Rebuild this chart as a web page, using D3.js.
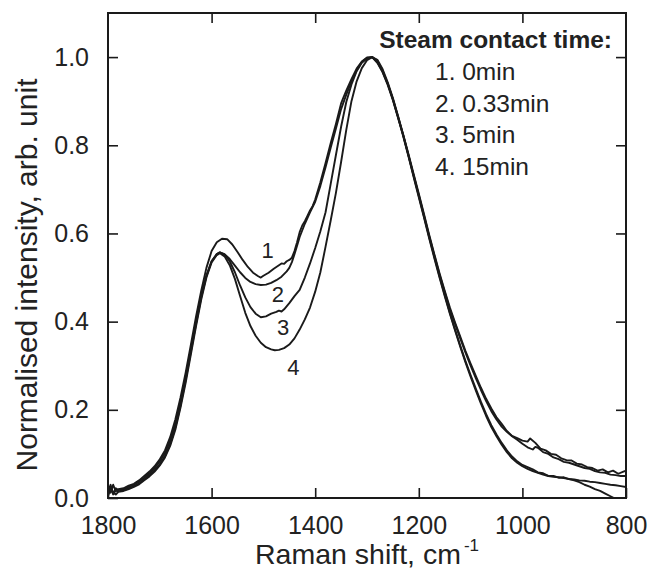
<!DOCTYPE html>
<html>
<head>
<meta charset="utf-8">
<script src="https://cdn.jsdelivr.net/npm/d3@7"></script>
<style>
  html, body { margin: 0; padding: 0; background: #fff; }
  svg { display: block; }
  text { font-family: "Liberation Sans", Arial, Helvetica, sans-serif; fill: #222; }
</style>
</head>
<body>
<svg id="chart" width="651" height="570"></svg>
<script>
// ---------- data (Raman shift cm-1, normalised intensity) ----------
const curve1 = [[1800,0.025],[1795,0.012],[1790,0.03],[1785,0.015],[1780,0.02],[1770,0.022],[1760,0.028],[1750,0.032],[1740,0.04],[1730,0.05],[1720,0.06],[1710,0.072],[1700,0.088],[1690,0.108],[1680,0.138],[1670,0.178],[1660,0.228],[1650,0.285],[1640,0.348],[1630,0.412],[1620,0.47],[1610,0.522],[1600,0.56],[1590,0.58],[1580,0.588],[1570,0.587],[1560,0.575],[1550,0.558],[1540,0.54],[1530,0.524],[1520,0.511],[1510,0.503],[1505,0.5],[1500,0.504],[1490,0.511],[1480,0.52],[1470,0.528],[1465,0.532],[1460,0.531],[1455,0.537],[1450,0.54],[1445,0.545],[1440,0.56],[1435,0.58],[1430,0.603],[1425,0.618],[1420,0.628],[1415,0.64],[1410,0.652],[1405,0.662],[1400,0.677],[1390,0.716],[1380,0.76],[1370,0.805],[1360,0.848],[1350,0.895],[1345,0.91],[1340,0.924],[1330,0.95],[1320,0.974],[1310,0.99],[1300,0.999],[1290,1.0],[1280,0.987],[1270,0.966],[1260,0.937],[1250,0.902],[1240,0.862],[1230,0.822],[1220,0.777],[1210,0.732],[1200,0.687],[1190,0.641],[1180,0.594],[1170,0.55],[1160,0.507],[1150,0.467],[1140,0.428],[1130,0.395],[1120,0.362],[1110,0.33],[1100,0.3],[1090,0.272],[1080,0.245],[1070,0.22],[1060,0.197],[1050,0.178],[1040,0.162],[1030,0.15],[1020,0.14],[1010,0.132],[1000,0.123],[990,0.115],[980,0.11],[975,0.116],[970,0.114],[960,0.104],[950,0.1],[940,0.092],[930,0.088],[920,0.082],[910,0.08],[900,0.076],[890,0.072],[880,0.068],[870,0.066],[860,0.061],[850,0.058],[840,0.057],[830,0.053],[820,0.052],[810,0.05],[800,0.05]];

const curve2 = [[1800,0.015],[1795,0.03],[1790,0.01],[1785,0.022],[1780,0.018],[1770,0.02],[1760,0.025],[1750,0.03],[1740,0.037],[1730,0.046],[1720,0.056],[1710,0.068],[1700,0.083],[1690,0.102],[1680,0.13],[1670,0.168],[1660,0.218],[1650,0.275],[1640,0.338],[1630,0.4],[1620,0.458],[1610,0.505],[1600,0.537],[1590,0.553],[1584,0.557],[1575,0.553],[1565,0.542],[1555,0.527],[1545,0.512],[1535,0.499],[1525,0.49],[1515,0.485],[1505,0.483],[1495,0.484],[1485,0.488],[1475,0.494],[1465,0.502],[1455,0.514],[1450,0.522],[1445,0.535],[1440,0.553],[1435,0.572],[1430,0.592],[1420,0.622],[1410,0.648],[1400,0.672],[1390,0.708],[1380,0.75],[1370,0.795],[1360,0.838],[1350,0.882],[1340,0.915],[1330,0.945],[1320,0.97],[1310,0.989],[1300,0.998],[1290,1.0],[1280,0.988],[1270,0.967],[1260,0.939],[1250,0.905],[1240,0.865],[1230,0.824],[1220,0.78],[1210,0.735],[1200,0.69],[1190,0.644],[1180,0.597],[1170,0.553],[1160,0.51],[1150,0.47],[1140,0.432],[1130,0.398],[1120,0.366],[1110,0.334],[1100,0.305],[1090,0.277],[1080,0.25],[1070,0.225],[1060,0.203],[1050,0.183],[1040,0.168],[1030,0.152],[1020,0.141],[1010,0.136],[1000,0.13],[990,0.128],[985,0.135],[975,0.125],[965,0.112],[955,0.108],[945,0.1],[935,0.098],[925,0.09],[915,0.086],[905,0.085],[895,0.078],[885,0.076],[875,0.07],[865,0.068],[855,0.062],[845,0.065],[835,0.058],[825,0.062],[815,0.055],[805,0.06],[800,0.062]];

const curve3 = [[1800,0.01],[1795,0.025],[1790,0.008],[1785,0.018],[1780,0.015],[1770,0.018],[1760,0.022],[1750,0.027],[1740,0.033],[1730,0.042],[1720,0.052],[1710,0.063],[1700,0.077],[1690,0.095],[1680,0.122],[1670,0.16],[1660,0.21],[1650,0.268],[1640,0.332],[1630,0.395],[1620,0.455],[1610,0.503],[1600,0.537],[1590,0.553],[1584,0.557],[1575,0.552],[1565,0.537],[1555,0.512],[1545,0.482],[1535,0.455],[1525,0.433],[1515,0.418],[1505,0.41],[1495,0.412],[1485,0.418],[1475,0.422],[1470,0.425],[1465,0.423],[1460,0.428],[1450,0.442],[1440,0.458],[1430,0.472],[1420,0.5],[1410,0.532],[1400,0.567],[1390,0.605],[1380,0.648],[1370,0.713],[1360,0.778],[1350,0.842],[1340,0.898],[1330,0.938],[1320,0.968],[1310,0.987],[1300,0.997],[1290,1.0],[1280,0.992],[1270,0.97],[1260,0.94],[1250,0.904],[1240,0.863],[1230,0.82],[1220,0.775],[1210,0.728],[1200,0.682],[1190,0.636],[1180,0.589],[1170,0.544],[1160,0.5],[1150,0.458],[1140,0.418],[1130,0.38],[1120,0.343],[1110,0.308],[1100,0.275],[1090,0.244],[1080,0.214],[1070,0.186],[1060,0.161],[1050,0.14],[1040,0.121],[1030,0.104],[1020,0.09],[1010,0.08],[1000,0.072],[990,0.066],[980,0.061],[970,0.057],[960,0.053],[950,0.05],[940,0.048],[930,0.047],[920,0.045],[910,0.043],[900,0.042],[890,0.04],[880,0.039],[870,0.037],[860,0.036],[850,0.034],[840,0.032],[830,0.03],[820,0.029],[810,0.027],[800,0.025]];

const curve4 = [[1800,0.005],[1795,0.02],[1790,0.012],[1785,0.008],[1780,0.014],[1770,0.016],[1760,0.02],[1750,0.025],[1740,0.031],[1730,0.04],[1720,0.049],[1710,0.06],[1700,0.074],[1690,0.092],[1680,0.118],[1670,0.155],[1660,0.205],[1650,0.262],[1640,0.326],[1630,0.39],[1620,0.45],[1610,0.5],[1600,0.534],[1590,0.551],[1584,0.555],[1575,0.548],[1565,0.528],[1555,0.497],[1545,0.458],[1535,0.42],[1525,0.39],[1515,0.368],[1505,0.352],[1495,0.342],[1485,0.337],[1478,0.335],[1470,0.336],[1460,0.34],[1450,0.348],[1440,0.362],[1430,0.382],[1420,0.405],[1410,0.432],[1400,0.468],[1390,0.512],[1380,0.57],[1370,0.63],[1360,0.692],[1350,0.762],[1340,0.835],[1330,0.9],[1320,0.945],[1310,0.975],[1300,0.993],[1290,1.0],[1280,0.994],[1270,0.973],[1260,0.943],[1250,0.907],[1240,0.866],[1230,0.823],[1220,0.778],[1210,0.731],[1200,0.685],[1190,0.639],[1180,0.592],[1170,0.547],[1160,0.503],[1150,0.461],[1140,0.42],[1130,0.382],[1120,0.346],[1110,0.311],[1100,0.279],[1090,0.248],[1080,0.218],[1070,0.19],[1060,0.165],[1050,0.144],[1040,0.125],[1030,0.108],[1020,0.094],[1010,0.083],[1000,0.075],[990,0.07],[980,0.065],[970,0.058],[960,0.056],[950,0.05],[940,0.05],[930,0.046],[920,0.047],[910,0.043],[900,0.04],[890,0.036],[880,0.03],[870,0.026],[860,0.02],[850,0.016],[840,0.01],[830,0.004],[820,-0.002],[810,-0.008],[800,-0.012]];

const seriesNames = ["1", "2", "3", "4"];
const legendTitle = "Steam contact time:";
const legendItems = ["1. 0min", "2. 0.33min", "3. 5min", "4. 15min"];
const xTicks = [1800, 1600, 1400, 1200, 1000, 800];
const yTicks = [0.0, 0.2, 0.4, 0.6, 0.8, 1.0];
const xTitle = "Raman shift, cm";
const xTitleSup = "-1";
const yTitle = "Normalised intensity, arb. unit";
// label anchor positions in data units [wavenumber, intensity]
const curveLabelPos = [[1492, 0.545], [1472, 0.445], [1462, 0.37], [1442, 0.279]];

// ---------- layout ----------
const svg = d3.select("#chart");
const L = 108, R = 626, T = 13, B = 498;
const x = d3.scaleLinear().domain([1800, 800]).range([L, R]);
const y = d3.scaleLinear().domain([0, 1.1]).range([B, T]);
const ink = "#1a1a1a";

svg.append("defs").append("clipPath").attr("id", "plotclip")
  .append("rect").attr("x", L).attr("y", T).attr("width", R - L).attr("height", B - T);

// curves
const line = d3.line().x(d => x(d[0])).y(d => y(d[1]));
const curves = [curve1, curve2, curve3, curve4];
svg.append("g").attr("clip-path", "url(#plotclip)")
  .selectAll("path").data(curves).join("path")
  .attr("d", line)
  .attr("fill", "none")
  .attr("stroke", ink)
  .attr("stroke-width", 1.9)
  .attr("stroke-linejoin", "round");

// axes (ticks pointing inward on all four sides)
const fmt = d3.format(".1f");
const tickFont = 25;
const gx = svg.append("g").attr("transform", `translate(0,${B})`)
  .call(d3.axisBottom(x).tickValues(xTicks).tickSizeInner(-10).tickSizeOuter(0).tickPadding(18).tickFormat(d3.format("d")));
const gxt = svg.append("g").attr("transform", `translate(0,${T})`)
  .call(d3.axisTop(x).tickValues(xTicks.slice(1, -1)).tickSizeInner(-10).tickSizeOuter(0).tickFormat(""));
const gy = svg.append("g").attr("transform", `translate(${L},0)`)
  .call(d3.axisLeft(y).tickValues(yTicks).tickSizeInner(-10).tickSizeOuter(0).tickPadding(19).tickFormat(fmt));
const gyr = svg.append("g").attr("transform", `translate(${R},0)`)
  .call(d3.axisRight(y).tickValues(yTicks.slice(1)).tickSizeInner(-10).tickSizeOuter(0).tickFormat(""));

[gx, gxt, gy, gyr].forEach(g => {
  g.select(".domain").remove();
  g.selectAll(".tick line").attr("stroke", ink).attr("stroke-width", 1.6);
  g.selectAll(".tick text").attr("font-size", tickFont).attr("fill", "#222")
    .attr("font-family", '"Liberation Sans", Arial, Helvetica, sans-serif');
});
gx.selectAll(".tick text").attr("dy", "0.71em");

// frame
svg.append("rect").attr("x", L).attr("y", T).attr("width", R - L).attr("height", B - T)
  .attr("fill", "none").attr("stroke", ink).attr("stroke-width", 2);

// axis titles
const xt = svg.append("text").attr("x", (L + R) / 2).attr("y", 564)
  .attr("text-anchor", "middle").attr("font-size", 28.5).text(xTitle);
xt.append("tspan").attr("font-size", 17).attr("dy", -13).attr("dx", 3).text(xTitleSup);

svg.append("text")
  .attr("transform", `translate(37,${275}) rotate(-90)`)
  .attr("text-anchor", "middle").attr("font-size", 30).text(yTitle);

// legend
svg.append("text").attr("x", 612).attr("y", 48).attr("text-anchor", "end")
  .attr("font-size", 24.5).attr("font-weight", "bold").text(legendTitle);
svg.append("g").selectAll("text").data(legendItems).join("text")
  .attr("x", 435).attr("y", (d, i) => 80 + i * 31.7)
  .attr("font-size", 24.5).text(d => d);

// curve labels
svg.append("g").selectAll("text").data(seriesNames).join("text")
  .attr("x", (d, i) => x(curveLabelPos[i][0]))
  .attr("y", (d, i) => y(curveLabelPos[i][1]))
  .attr("text-anchor", "middle").attr("font-size", 22).text(d => d);
</script>
</body>
</html>
